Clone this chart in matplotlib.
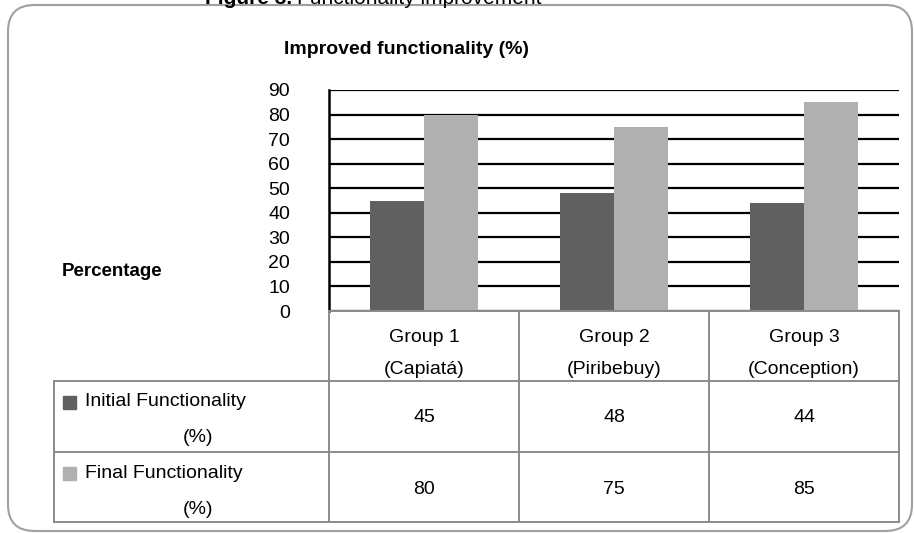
import matplotlib.pyplot as plt
from matplotlib.lines import Line2D
from matplotlib.patches import FancyBboxPatch, Rectangle

plt.rcParams['font.family'] = ['Liberation Sans', 'DejaVu Sans']

groups = ['Group 1', 'Group 2', 'Group 3']
places = ['(Capiatá)', '(Piribebuy)', '(Conception)']
initial = [45, 48, 44]
final = [80, 75, 85]
series_names = ['Initial Functionality', 'Final Functionality']
yticks = [0, 10, 20, 30, 40, 50, 60, 70, 80, 90]

DARK = '#606060'
LIGHT = '#b0b0b0'
EDGE = '#8a8a8a'
FS = 14

W, H = 914, 533
fig = plt.figure(figsize=(W / 100, H / 100), dpi=100)


def fx(px):
    return px / W


def fy(py):
    return 1 - py / H


def hline(y, x0, x1):
    fig.add_artist(Line2D([fx(x0), fx(x1)], [fy(y), fy(y)], color=EDGE, lw=1.4))


def vline(x, y0, y1):
    fig.add_artist(Line2D([fx(x), fx(x)], [fy(y0), fy(y1)], color=EDGE, lw=1.4))


# rounded outer frame
frame = FancyBboxPatch((fx(8), fy(531)), fx(912) - fx(8), fy(5) - fy(531),
                       boxstyle='round,pad=0,rounding_size=0.029',
                       transform=fig.transFigure, fill=False,
                       edgecolor='#a0a0a0', lw=1.5, mutation_aspect=W / H)
fig.add_artist(frame)

# caption sits partly above the top edge: bold label, then plain text after it
cap_bold = fig.text(fx(205), fy(4), 'Figure 3.', fontsize=15, fontweight='bold', va='baseline')
fig.canvas.draw()
bb = cap_bold.get_window_extent()
fig.text(fx(bb.x1 + 5), fy(4), 'Functionality improvement', fontsize=15, va='baseline')

fig.text(fx(406), fy(50), 'Improved functionality (%)', fontsize=FS,
         fontweight='bold', ha='center', va='center')
fig.text(fx(62), fy(271), 'Percentage', fontsize=FS - 0.5, fontweight='bold', va='center')

# bar chart
L, R, T, B = 329, 899, 90, 311
ax = fig.add_axes([fx(L), fy(B), fx(R) - fx(L), fy(T) - fy(B)])
x = range(len(groups))
bw = 0.284
ax.bar([i - bw / 2 for i in x], initial, width=bw, color=DARK, zorder=3)
ax.bar([i + bw / 2 for i in x], final, width=bw, color=LIGHT, zorder=3)
ax.set_xlim(-0.5, 2.5)
ax.set_ylim(0, 90)
ax.set_yticks(yticks)
ax.set_yticklabels([str(v) for v in yticks], fontsize=FS)
ax.tick_params(axis='y', length=0, pad=28)
ax.set_xticks([])
ax.yaxis.grid(True, color='black', lw=1.6, zorder=0)
ax.set_axisbelow(True)
for s in ['top', 'right', 'bottom']:
    ax.spines[s].set_visible(False)
ax.spines['left'].set_color('black')
ax.spines['left'].set_linewidth(1.8)

# data table under the chart
cols = [329, 519, 709, 899]
rows = [311, 381, 452, 522]
hline(rows[0], cols[0], cols[-1])
for y in rows[1:]:
    hline(y, 54, cols[-1])
for xc in cols:
    vline(xc, rows[0], rows[-1])
vline(54, rows[1], rows[-1])

for i in range(len(groups)):
    cx = (cols[i] + cols[i + 1]) / 2
    fig.text(fx(cx), fy(337), groups[i], fontsize=FS, ha='center', va='center')
    fig.text(fx(cx), fy(370), places[i], fontsize=FS, ha='center', va='center')
    fig.text(fx(cx), fy(418), str(initial[i]), fontsize=FS, ha='center', va='center')
    fig.text(fx(cx), fy(489), str(final[i]), fontsize=FS, ha='center', va='center')

for name, color, ytop in [(series_names[0], DARK, rows[1]), (series_names[1], LIGHT, rows[2])]:
    fig.add_artist(Rectangle((fx(63), fy(ytop + 28)), fx(13), fy(0) - fy(13),
                             transform=fig.transFigure, color=color))
    fig.text(fx(85), fy(ytop + 21), name, fontsize=FS, va='center')
    fig.text(fx(198), fy(ytop + 57), '(%)', fontsize=FS, ha='center', va='center')

fig.savefig('out.png', dpi=100)
